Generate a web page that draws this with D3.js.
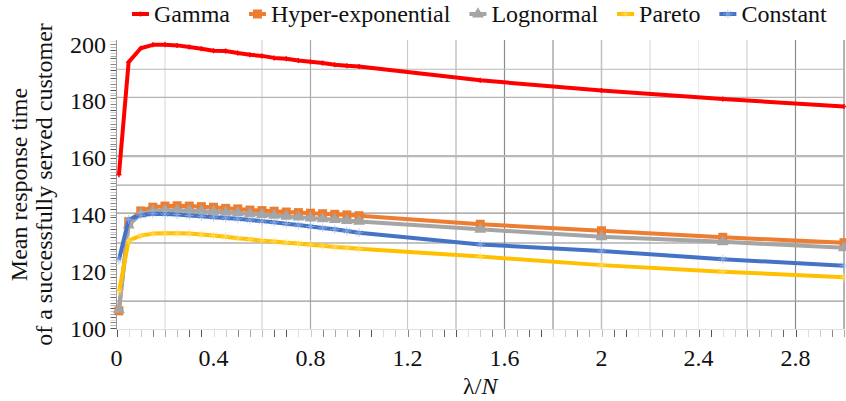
<!DOCTYPE html>
<html>
<head>
<meta charset="utf-8">
</head>
<body style="margin:0;background:#fff">
<svg id="fig" width="846" height="401"></svg>
<script src="https://d3js.org/d3.v7.min.js"></script>
<script>
// x positions (lambda / N)
const lambdaN = [0.01, 0.05, 0.1, 0.15, 0.2, 0.25, 0.3, 0.35, 0.4, 0.45, 0.5, 0.55, 0.6, 0.65, 0.7,
                 0.75, 0.8, 0.85, 0.9, 0.95, 1.0, 1.5, 2.0, 2.5, 3.0];

const gamma     = [154.0, 193.7, 198.6, 199.8, 199.8, 199.6, 199.0, 198.4, 197.7, 197.6, 196.9, 196.3, 195.9,
                   195.2, 194.9, 194.3, 193.8, 193.4, 192.8, 192.4, 192.2, 187.3, 183.7, 180.7, 178.1];
const hyperExp  = [106.1, 137.5, 141.3, 142.6, 143.0, 143.1, 143.0, 142.8, 142.6, 142.2, 142.0, 141.6, 141.4,
                   141.2, 140.9, 140.7, 140.5, 140.3, 140.1, 139.9, 139.6, 136.6, 134.3, 132.0, 130.1];
const lognormal = [106.5, 136.3, 140.2, 141.2, 141.5, 141.5, 141.4, 141.2, 141.0, 140.8, 140.6, 140.3, 140.0,
                   139.7, 139.4, 139.1, 138.8, 138.5, 138.2, 137.9, 137.6, 134.8, 132.2, 130.4, 128.3];
const pareto    = [112.8, 130.8, 132.6, 133.3, 133.4, 133.4, 133.3, 133.0, 132.6, 132.2, 131.7, 131.3, 130.8,
                   130.5, 130.1, 129.8, 129.4, 129.0, 128.6, 128.3, 128.0, 125.2, 122.2, 119.9, 117.9];
const constant  = [124.0, 138.3, 139.8, 140.3, 140.2, 140.0, 139.7, 139.4, 139.1, 138.8, 138.5, 138.1, 137.7,
                   137.3, 136.8, 136.3, 135.8, 135.3, 134.8, 134.2, 133.6, 129.5, 127.2, 124.3, 122.0];

const seriesNames = ["Gamma", "Hyper-exponential", "Lognormal", "Pareto", "Constant"];
const seriesData = [gamma, hyperExp, lognormal, pareto, constant];
const seriesColors = ["#ff0000", "#ed7d31", "#a5a5a5", "#ffc000", "#4472c4"];
const markerColors = ["#ff0000", "#ed7d31", "#a5a5a5", "#ffe27a", "#9dbcea"];
const markerTypes = ["plus", "square", "triangle", "star", "star"];

const xTicks = [0, 0.4, 0.8, 1.2, 1.6, 2, 2.4, 2.8];
const yTicks = [100, 120, 140, 160, 180, 200];

// the odd grid of the original figure
const vGrid = [0.2, 0.6, 0.8, 1.2, 1.4, 1.6, 1.8, 2.0, 2.2, 2.4, 2.6, 2.8, 3.0];
const vGridColor = ["#dcdcdc", "#d4d4d4", "#a8a8a8", "#cccccc", "#b4b4b4", "#8a8a8a", "#959595",
                    "#c4c4c4", "#dadada", "#ececec", "#d2d2d2", "#8c8c8c", "#808080"];
const hGrid = [191.2, 181.3, 160.6, 150.4, 140.5, 130.0, 109.5];
const hGridColor = ["#b8b8b8", "#b4b4b4", "#b8b8b8", "#a8a8a8", "#969696", "#8a8a8a", "#9a9a9a"];

const FONT = '"Liberation Serif", "Times New Roman", serif';
const svg = d3.select("#fig");

// serif text helper
const serif = sel => sel
    .attr("font-family", "Liberation Serif, Times New Roman, serif")
    .style("font-family", FONT, "important");

const x = d3.scaleLinear().domain([0, 3]).range([116.5, 844]);
const y = d3.scaleLinear().domain([99.7, 201.5]).range([329, 40]);

// grid
const grid = svg.append("g");
grid.selectAll(".vg").data(vGrid).join("line")
    .attr("x1", d => x(d)).attr("x2", d => x(d))
    .attr("y1", y.range()[1]).attr("y2", y.range()[0])
    .attr("stroke", (d, i) => vGridColor[i])
    .attr("stroke-width", (d, i) => d === 2.0 ? 1.6 : 1.2);
grid.selectAll(".hg").data(hGrid).join("line")
    .attr("x1", x.range()[0]).attr("x2", x.range()[1])
    .attr("y1", d => y(d)).attr("y2", d => y(d))
    .attr("stroke", (d, i) => hGridColor[i])
    .attr("stroke-width", (d, i) => i === 2 ? 2.2 : 1.2);

// minor ticks
const tickGrays = ["#555", "#bbb", "#888", "#ddd", "#666", "#aaa", "#ccc"];
const yMinor = d3.range(100, 202, 1);
svg.append("g").selectAll("line").data(yMinor).join("line")
    .attr("x1", x.range()[0] - 6).attr("x2", x.range()[0])
    .attr("y1", d => Math.round(y(d)) + 0.5).attr("y2", d => Math.round(y(d)) + 0.5)
    .attr("stroke", (d, i) => tickGrays[i % tickGrays.length]);
const xMinor = d3.range(0, 3.001, 0.05);
svg.append("g").selectAll("line").data(xMinor).join("line")
    .attr("x1", d => Math.round(x(d)) + 0.5).attr("x2", d => Math.round(x(d)) + 0.5)
    .attr("y1", y.range()[0] + 1).attr("y2", y.range()[0] + 8)
    .attr("stroke", (d, i) => tickGrays[(i * 3) % tickGrays.length]);

// axis lines
svg.append("line")
    .attr("x1", x.range()[0]).attr("x2", x.range()[0])
    .attr("y1", y.range()[1]).attr("y2", y.range()[0] + 1)
    .attr("stroke", "#999");
svg.append("line")
    .attr("x1", x.range()[0]).attr("x2", x.range()[1])
    .attr("y1", y.range()[0] + 0.5).attr("y2", y.range()[0] + 0.5)
    .attr("stroke", "#e0e0e0");

// tick labels
svg.append("g").selectAll("text").data(yTicks).join("text")
    .call(serif)
    .attr("x", 106).attr("y", d => y(d))
    .attr("dy", "0.35em")
    .attr("text-anchor", "end")
    .attr("font-size", 24)
    .attr("fill", "#111")
    .text(d => d);
svg.append("g").selectAll("text").data(xTicks).join("text")
    .call(serif)
    .attr("x", d => x(d)).attr("y", 366)
    .attr("text-anchor", "middle")
    .attr("font-size", 24)
    .attr("fill", "#111")
    .text(d => d);

// axis titles
const xt = svg.append("text")
    .call(serif)
    .attr("x", (x.range()[0] + x.range()[1]) / 2).attr("y", 394)
    .attr("text-anchor", "middle").attr("font-size", 24).attr("fill", "#111");
xt.append("tspan").call(serif).text("λ/");
xt.append("tspan").call(serif).attr("font-style", "italic").text("N");

const yMid = (y.range()[0] + y.range()[1]) / 2;
const yt = svg.append("g").attr("transform", `translate(0,${yMid}) rotate(-90)`);
yt.append("text").call(serif).attr("x", 0).attr("y", 27).attr("text-anchor", "middle")
    .attr("font-size", 24).attr("fill", "#111").text("Mean response time");
yt.append("text").call(serif).attr("x", 0).attr("y", 52).attr("text-anchor", "middle")
    .attr("font-size", 24).attr("fill", "#111").text("of a successfully served customer");

// markers
function drawMarker(g, type, color, size) {
  if (type === "square") {
    g.append("rect").attr("x", -size / 2).attr("y", -size / 2)
        .attr("width", size).attr("height", size).attr("fill", color);
  } else if (type === "triangle") {
    g.append("path").attr("d", d3.symbol(d3.symbolTriangle, size * size * 0.75)()).attr("fill", color);
  } else if (type === "plus") {
    g.append("path").attr("d", `M${-size / 2},0H${size / 2}M0,${-size / 2}V${size / 2}`)
        .attr("stroke", color).attr("stroke-width", 1.5);
  } else {
    const s = size / 2;
    g.append("path").attr("d", `M${-s},0H${s}M0,${-s}V${s}M${-s * 0.7},${-s * 0.7}L${s * 0.7},${s * 0.7}M${-s * 0.7},${s * 0.7}L${s * 0.7},${-s * 0.7}`)
        .attr("stroke", color).attr("stroke-width", 1).attr("opacity", 0.7);
  }
}
const markerSize = [5, 9, 9, 9, 9];

// series
const line = d3.line().x((d, i) => x(lambdaN[i])).y(d => y(d));
seriesData.forEach((vals, k) => {
  const g = svg.append("g");
  g.append("path").datum(vals)
      .attr("d", line)
      .attr("fill", "none")
      .attr("stroke", seriesColors[k])
      .attr("stroke-width", 4)
      .attr("stroke-linejoin", "round");
  g.selectAll("g").data(vals).join("g")
      .attr("transform", (d, i) => `translate(${x(lambdaN[i])},${y(d)})`)
      .each(function () { drawMarker(d3.select(this), markerTypes[k], markerColors[k], markerSize[k]); });
});

// legend, laid out from the measured text widths
const legend = svg.append("g").attr("transform", "translate(132,14)");
let lx = 0;
seriesNames.forEach((name, k) => {
  const item = legend.append("g").attr("transform", `translate(${lx},0)`);
  item.append("line").attr("x1", 0).attr("x2", 17).attr("y1", 0).attr("y2", 0)
      .attr("stroke", seriesColors[k]).attr("stroke-width", 4);
  const m = item.append("g").attr("transform", "translate(8.5,0)");
  drawMarker(m, markerTypes[k], markerColors[k], markerSize[k]);
  const t = item.append("text").call(serif)
      .attr("x", 22).attr("y", 0).attr("dy", "0.35em")
      .attr("font-size", 24).attr("fill", "#111").text(name);
  lx += 22 + t.node().getComputedTextLength() + 19;
});
</script>
</body>
</html>
